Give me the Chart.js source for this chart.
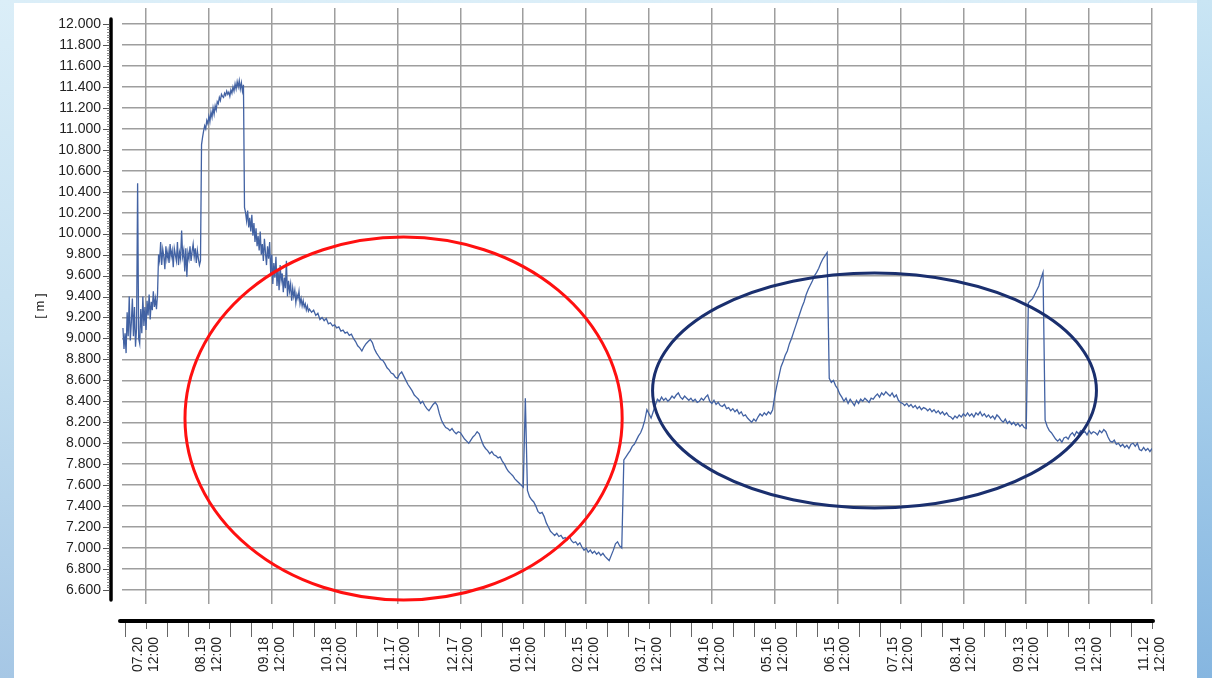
<!DOCTYPE html>
<html>
<head>
<meta charset="utf-8">
<script src="https://cdn.jsdelivr.net/npm/chart.js@4.4.1/dist/chart.umd.min.js"></script>
<style>
  html, body { margin: 0; padding: 0; }
  #wrap { position: relative; width: 1212px; height: 678px; overflow: hidden;
    background: linear-gradient(to bottom, #dbeef8 0%, #c4dff0 50%, #a6c7e5 100%); }
  #rightStrip { position: absolute; left: 1197px; top: 0; width: 15px; height: 678px;
    background: linear-gradient(to bottom, #c9e5f4 0%, #a9d0ec 50%, #86b6e0 100%); }
  #panel { position: absolute; left: 14px; top: 3px; width: 1183px; height: 675px; background: #ffffff; }
  #c { position: absolute; left: 0; top: 0; }
</style>
</head>
<body>
<div id="wrap">
  <div id="rightStrip"></div>
  <div id="panel"></div>
  <canvas id="c" width="1212" height="678"></canvas>
</div>
<script>
// Days are counted from 07.20 12:00 (tick label day 0).
// Early, noisy period: two readings per day from day -11 to day 77.5
const earlyStart = -11;
const earlyLevels = [
  9.10, 8.90, 9.05, 8.86, 9.25, 9.02, 9.40, 8.98, 9.15, 9.38,
  9.02, 9.30, 8.92, 9.10, 10.48, 9.00, 8.95, 9.28, 9.05, 9.40,
  9.12, 9.30, 9.08, 9.36, 9.22, 9.42, 9.18, 9.35, 9.27, 9.45,
  9.30, 9.38, 9.28, 9.42, 9.80, 9.74, 9.92, 9.70, 9.85, 9.78,
  9.66, 9.88, 9.76, 9.83, 9.72, 9.90, 9.78, 9.84, 9.68, 9.86,
  9.80, 9.74, 9.92, 9.70, 9.82, 9.76, 10.03, 9.78, 9.84, 9.64,
  9.86, 9.59, 9.82, 9.76, 9.88, 9.74, 9.83, 9.90, 9.78, 9.86,
  9.72, 9.84, 9.76, 9.70, 9.74, 10.85, 10.92, 10.98, 11.03, 11.00,
  11.08, 11.05, 11.12, 11.07, 11.16, 11.11, 11.20, 11.14, 11.22, 11.18,
  11.26, 11.24, 11.30, 11.27, 11.33, 11.31, 11.30, 11.34, 11.32, 11.36,
  11.33, 11.35, 11.31, 11.37, 11.34, 11.40, 11.36, 11.43, 11.38, 11.45,
  11.40, 11.46, 11.38, 11.44, 11.36, 11.42, 10.25, 10.20, 10.12, 10.22,
  10.06, 10.15, 10.02, 10.18, 9.98, 10.10, 9.92, 10.05, 9.88, 9.98,
  9.84, 10.02, 9.80, 9.90, 9.74, 9.95, 9.82, 9.70, 9.88, 9.76,
  9.92, 9.62, 9.80, 9.52, 9.72, 9.58, 9.78, 9.50, 9.66, 9.46,
  9.70, 9.55, 9.62, 9.44, 9.58, 9.48, 9.74, 9.40, 9.55, 9.45,
  9.52, 9.36, 9.48, 9.40, 9.46, 9.34, 9.42, 9.38, 9.45, 9.33,
  9.38, 9.31, 9.36, 9.30, 9.33, 9.27, 9.31, 9.26
];
// Later period: one reading per day from day 78 to day 480
const dailyStart = 78;
const dailyLevels = [
  9.28,
  9.25, 9.27, 9.22, 9.24, 9.18, 9.20, 9.17, 9.19, 9.14, 9.15,
  9.12, 9.13, 9.10, 9.11, 9.07, 9.08, 9.05, 9.06, 9.03, 9.04,
  9.00, 8.97, 8.93, 8.91, 8.88, 8.92, 8.95, 8.97, 8.99, 8.96,
  8.90, 8.86, 8.83, 8.80, 8.79, 8.76, 8.72, 8.70, 8.67, 8.66,
  8.63, 8.62, 8.66, 8.68, 8.64, 8.60, 8.56, 8.53, 8.50, 8.46,
  8.44, 8.42, 8.38, 8.40, 8.36, 8.33, 8.31, 8.34, 8.37, 8.39,
  8.36, 8.28, 8.22, 8.18, 8.15, 8.14, 8.12, 8.14, 8.11, 8.09,
  8.11, 8.10, 8.07, 8.04, 8.02, 8.00, 8.03, 8.06, 8.08, 8.11,
  8.09, 8.03, 7.98, 7.95, 7.93, 7.90, 7.92, 7.89, 7.88, 7.86,
  7.87, 7.83, 7.80, 7.76, 7.73, 7.71, 7.69, 7.66, 7.64, 7.62,
  7.60, 7.58, 8.43, 7.55, 7.49, 7.46, 7.44, 7.40, 7.35, 7.33,
  7.34, 7.30, 7.24, 7.20, 7.16, 7.14, 7.12, 7.14, 7.11, 7.12,
  7.09, 7.10, 7.08, 7.11, 7.07, 7.05, 7.06, 7.03, 7.05, 7.01,
  6.98, 7.00, 6.96, 6.98, 6.95, 6.97, 6.94, 6.96, 6.93, 6.95,
  6.92, 6.90, 6.88, 6.93, 6.98, 7.04, 7.06, 7.02, 7.00, 7.84,
  7.87, 7.90, 7.93, 7.97, 7.99, 8.03, 8.07, 8.10, 8.15, 8.22,
  8.32, 8.28, 8.24, 8.30, 8.36, 8.42, 8.40, 8.44, 8.41, 8.43,
  8.40, 8.42, 8.45, 8.43, 8.46, 8.48, 8.44, 8.42, 8.45, 8.43,
  8.41, 8.43, 8.40, 8.42, 8.39, 8.40, 8.43, 8.41, 8.44, 8.46,
  8.40, 8.38, 8.41, 8.37, 8.39, 8.36, 8.35, 8.37, 8.33, 8.34,
  8.31, 8.33, 8.30, 8.32, 8.28, 8.30, 8.26, 8.27, 8.24, 8.22,
  8.20, 8.23, 8.21, 8.25, 8.28, 8.26, 8.29, 8.27, 8.30, 8.28,
  8.32, 8.45, 8.55, 8.64, 8.73, 8.78, 8.84, 8.88, 8.95, 9.00,
  9.06, 9.12, 9.18, 9.24, 9.30, 9.35, 9.42, 9.47, 9.51, 9.55,
  9.60, 9.63, 9.67, 9.72, 9.76, 9.79, 9.82, 8.62, 8.58, 8.60,
  8.55, 8.52, 8.47, 8.44, 8.40, 8.43, 8.38, 8.42, 8.39, 8.36,
  8.41, 8.38, 8.42, 8.40, 8.43, 8.41, 8.39, 8.43, 8.42, 8.45,
  8.47, 8.44, 8.48, 8.46, 8.49, 8.47, 8.45, 8.48, 8.44, 8.46,
  8.41, 8.39, 8.38, 8.36, 8.38, 8.35, 8.37, 8.34, 8.36, 8.33,
  8.35, 8.32, 8.34, 8.33, 8.31, 8.33, 8.30, 8.32, 8.29, 8.31,
  8.28, 8.30, 8.27, 8.29, 8.26, 8.25, 8.23, 8.26, 8.24, 8.27,
  8.25, 8.28, 8.26, 8.29, 8.26, 8.28, 8.25, 8.29, 8.27, 8.30,
  8.26, 8.28, 8.25, 8.27, 8.24, 8.26, 8.23, 8.27, 8.25, 8.22,
  8.20, 8.23, 8.19, 8.21, 8.18, 8.20, 8.17, 8.19, 8.16, 8.18,
  8.15, 8.14, 9.34, 9.36, 9.38, 9.42, 9.46, 9.50, 9.57, 9.63,
  8.22, 8.16, 8.12, 8.10, 8.07, 8.04, 8.02, 8.04, 8.01, 8.05,
  8.06, 8.04, 8.08, 8.10, 8.07, 8.11, 8.09, 8.12, 8.10, 8.11,
  8.08, 8.12, 8.09, 8.11, 8.10, 8.08, 8.12, 8.10, 8.13, 8.11,
  8.06, 8.02, 8.01, 8.03, 7.99, 8.00, 7.97, 7.99, 7.96, 7.98,
  7.95, 7.99, 8.00, 7.97, 8.00, 7.94, 7.93, 7.96, 7.93, 7.95,
  7.92, 7.95
];
// Major tick labels, every 30 days starting at day 0
const tickDates = ['07.20','08.19','09.18','10.18','11.17','12.17','01.16','02.15','03.17',
                   '04.16','05.16','06.15','07.15','08.14','09.13','10.13','11.12'];
const tickTime = '12:00';
const xRange = [-11.45, 480];
const yRange = [6.466, 12.153];
// Highlight ellipses in data units: [centre day, centre level, radius days, radius level]
const redEllipse  = [122.9, 8.236, 104.3, 1.732];
const blueEllipse = [347.6, 8.503, 105.9, 1.121];

const points = earlyLevels.map((v, i) => ({ x: earlyStart + i * 0.5, y: v }))
  .concat(dailyLevels.map((v, i) => ({ x: dailyStart + i, y: v })));

const axisPlugin = {
  id: 'customAxes',
  afterDraw(chart) {
    const { ctx, chartArea, scales: { x, y } } = chart;
    ctx.save();
    const axX = chartArea.left - 11;
    const yTop = y.getPixelForValue(12.0) - 5;
    const yBot = y.getPixelForValue(6.6) + 10;
    ctx.strokeStyle = '#000';
    ctx.lineCap = 'round';
    ctx.lineWidth = 3.5;
    ctx.beginPath(); ctx.moveTo(axX, yTop); ctx.lineTo(axX, yBot); ctx.stroke();
    ctx.lineCap = 'butt';
    ctx.lineWidth = 1;
    ctx.strokeStyle = '#8a8a8a';
    const ticks = y.ticks.map(t => t.value);
    for (let k = 0; k < ticks.length - 1; k++) {
      for (let s = 1; s < 8; s++) {
        const v = ticks[k] + (ticks[k + 1] - ticks[k]) * s / 8;
        const py = Math.round(y.getPixelForValue(v)) + 0.5;
        ctx.beginPath(); ctx.moveTo(axX - 4, py); ctx.lineTo(axX - 1.5, py); ctx.stroke();
      }
    }
    ctx.strokeStyle = '#555';
    ticks.forEach(v => {
      const py = Math.round(y.getPixelForValue(v)) + 0.5;
      ctx.beginPath(); ctx.moveTo(axX - 8, py); ctx.lineTo(axX - 1.5, py); ctx.stroke();
    });
    const axY = chartArea.bottom + 17;
    ctx.strokeStyle = '#000';
    ctx.lineCap = 'round';
    ctx.lineWidth = 4;
    ctx.beginPath(); ctx.moveTo(chartArea.left - 2, axY); ctx.lineTo(chartArea.right + 1, axY); ctx.stroke();
    ctx.lineCap = 'butt';
    ctx.lineWidth = 1;
    ctx.strokeStyle = '#666';
    x.ticks.forEach(t => {
      const px = Math.round(x.getPixelForValue(t.value)) + 0.5;
      const major = t.value % 30 === 0;
      ctx.beginPath(); ctx.moveTo(px, axY + 2); ctx.lineTo(px, axY + (major ? 8 : 16)); ctx.stroke();
    });
    ctx.restore();
  },
  afterDatasetsDraw(chart) {
    const { ctx, scales: { x, y } } = chart;
    const draw = (e, color) => {
      const cx = x.getPixelForValue(e[0]);
      const cy = y.getPixelForValue(e[1]);
      const rx = x.getPixelForValue(e[0] + e[2]) - cx;
      const ry = cy - y.getPixelForValue(e[1] + e[3]);
      ctx.save();
      ctx.strokeStyle = color;
      ctx.lineWidth = 3;
      ctx.beginPath();
      ctx.ellipse(cx, cy, rx, ry, 0, 0, Math.PI * 2);
      ctx.stroke();
      ctx.restore();
    };
    draw(redEllipse, '#ff1010');
    draw(blueEllipse, '#1a2f6e');
  }
};

new Chart(document.getElementById('c'), {
  type: 'line',
  data: {
    datasets: [{
      data: points,
      borderColor: '#4262a3',
      borderWidth: 1.3,
      pointRadius: 0,
      tension: 0,
      fill: false
    }]
  },
  options: {
    responsive: false,
    animation: false,
    parsing: false,
    layout: { padding: { top: 8, right: 60, bottom: 0, left: 0 } },
    plugins: { legend: { display: false }, tooltip: { enabled: false } },
    scales: {
      x: {
        type: 'linear',
        min: xRange[0], max: xRange[1],
        afterFit(s) { s.height = 74; s.paddingLeft = 0; s.paddingRight = 0; },
        border: { display: false },
        grid: {
          drawTicks: false,
          lineWidth: 1.5,
          color: c => (c.tick && c.tick.value % 30 === 0) ? '#9e9e9e' : 'rgba(0,0,0,0)'
        },
        ticks: {
          stepSize: 10,
          autoSkip: false,
          includeBounds: false,
          minRotation: 90, maxRotation: 90,
          padding: 33,
          labelOffset: -7.5,
          color: '#222',
          font: { family: 'Liberation Sans', size: 14, lineHeight: 1.1 },
          callback: v => (v % 30 === 0 && v >= 0) ? [tickDates[v / 30], tickTime] : ''
        }
      },
      y: {
        type: 'linear',
        min: yRange[0], max: yRange[1],
        afterFit(s) { s.width = 122; s.paddingTop = 0; s.paddingBottom = 0; },
        border: { display: false },
        grid: { drawTicks: false, lineWidth: 1.5, color: '#9e9e9e' },
        ticks: {
          stepSize: 0.2,
          includeBounds: false,
          padding: 21,
          color: '#222',
          font: { family: 'Liberation Sans', size: 14 },
          callback: v => Number(v).toFixed(3)
        },
        title: {
          display: true,
          text: '[ m ]',
          color: '#222',
          font: { family: 'Liberation Sans', size: 13 },
          padding: { top: 33, bottom: 0 }
        }
      }
    }
  },
  plugins: [axisPlugin]
});
</script>
</body>
</html>
